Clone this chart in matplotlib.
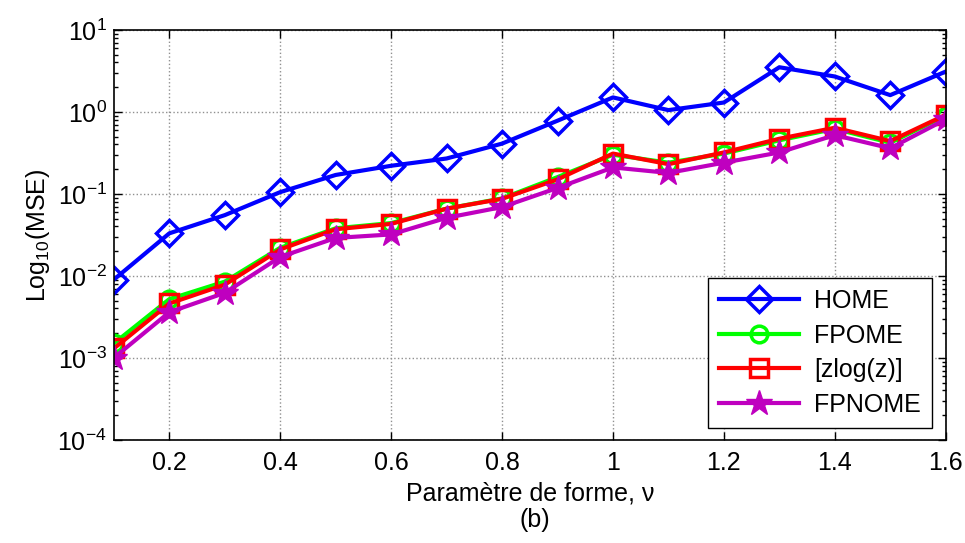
import numpy as np
import matplotlib
matplotlib.use("Agg")
import matplotlib.pyplot as plt
from matplotlib.ticker import LogLocator, NullFormatter

plt.rcParams['font.family'] = ['Liberation Sans', 'DejaVu Sans']
plt.rcParams['mathtext.fontset'] = 'custom'
plt.rcParams['mathtext.rm'] = 'Liberation Sans'

# shape parameter
nu = [0.1, 0.2, 0.3, 0.4, 0.5, 0.6, 0.7, 0.8, 0.9, 1.0, 1.1, 1.2, 1.3, 1.4, 1.5, 1.6]

home = [0.009, 0.033, 0.055, 0.105, 0.17, 0.22, 0.27, 0.41, 0.78, 1.5,
        1.05, 1.3, 3.5, 2.7, 1.6, 3.1]
fpome = [0.0015, 0.0052, 0.0085, 0.022, 0.038, 0.044, 0.066, 0.088, 0.16, 0.30,
         0.24, 0.31, 0.45, 0.62, 0.42, 0.90]
zlogz = [0.0013, 0.0046, 0.0078, 0.021, 0.037, 0.043, 0.066, 0.087, 0.15, 0.31,
         0.23, 0.32, 0.47, 0.64, 0.44, 0.92]
fpnome = [0.001, 0.0036, 0.0062, 0.017, 0.029, 0.032, 0.051, 0.069, 0.118, 0.21,
          0.18, 0.24, 0.32, 0.52, 0.36, 0.81]

xticks = [0.2, 0.4, 0.6, 0.8, 1.0, 1.2, 1.4, 1.6]
xticklabels = ['0.2', '0.4', '0.6', '0.8', '1', '1.2', '1.4', '1.6']


def main():
    fig = plt.figure(figsize=(9.65, 5.43), dpi=100)
    ax = fig.add_axes([0.118, 0.19, 0.862, 0.755])

    ax.plot(nu, home, color='#0000ff', lw=3, marker='D', ms=13, mfc='none',
            mew=2.5, label='HOME')
    ax.plot(nu, fpome, color='#00ff00', lw=3, marker='o', ms=12, mfc='none',
            mew=2.5, label='FPOME')
    ax.plot(nu, zlogz, color='#ff0000', lw=3, marker='s', ms=13, mfc='none',
            mew=2.5, label='[zlog(z)]')
    ax.plot(nu, fpnome, color='#bf00bf', lw=3, marker='*', ms=19,
            mew=1, label='FPNOME')

    ax.set_yscale('log')
    ax.set_ylim(1e-4, 1e1)
    ax.set_xlim(0.1, 1.6)
    ax.set_xticks(xticks)
    ax.set_xticklabels(xticklabels)
    ax.yaxis.set_major_locator(LogLocator(base=10, numticks=10))
    ax.yaxis.set_minor_locator(LogLocator(base=10, subs=np.arange(2, 10), numticks=20))
    ax.yaxis.set_minor_formatter(NullFormatter())

    ax.grid(True, which='major', linestyle=':', color='#909090', lw=1)
    ax.tick_params(which='both', direction='in', top=True, right=True, width=1)
    ax.tick_params(axis='x', which='major', labelsize=18, length=6, pad=8)
    ax.tick_params(axis='y', which='major', labelsize=18, length=6, pad=5)
    ax.tick_params(which='minor', length=3)
    for s in ax.spines.values():
        s.set_linewidth(1.2)

    ax.set_xlabel('Paramètre de forme, ν', fontsize=18, labelpad=5)
    ax.set_ylabel('Log$_{10}$(MSE)', fontsize=18, labelpad=4)
    fig.text(0.554, 0.042, '(b)', ha='center', va='center', fontsize=18)

    leg = ax.legend(loc='lower right', bbox_to_anchor=(0.984, 0.029),
                    borderaxespad=0, fontsize=18, fancybox=False,
                    edgecolor='black', framealpha=1, handlelength=3.2,
                    handletextpad=0.6, labelspacing=0.42, borderpad=0.45)
    leg.get_frame().set_linewidth(1)

    fig.savefig('out.png', dpi=100)


if __name__ == "__main__":
    main()
